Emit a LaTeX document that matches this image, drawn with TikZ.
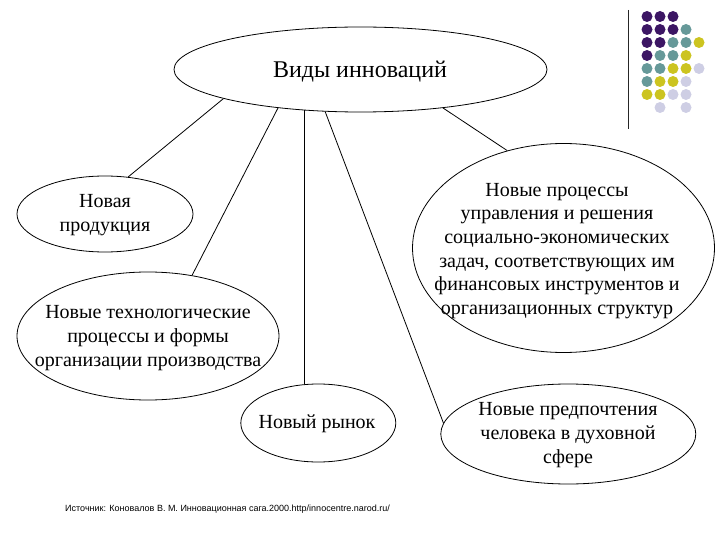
\documentclass[tikz,border=0pt]{standalone}
\usepackage{fontspec}
\setmainfont{Liberation Serif}
\newfontfamily\srcfont{Liberation Sans}
\usetikzlibrary{shapes.geometric}
\definecolor{dP}{RGB}{60,22,100}
\definecolor{dT}{RGB}{102,153,153}
\definecolor{dY}{RGB}{204,196,32}
\definecolor{dL}{RGB}{206,206,228}
\begin{document}
\begin{tikzpicture}[x=1pt,y=-1pt,
  ell/.style={ellipse,draw=black,line width=0.8pt,fill=white,inner sep=0pt},
  txt/.style={align=center,font=\fontsize{20}{23.6}\selectfont,inner sep=0pt},
  con/.style={draw=black,line width=0.8pt}]
\useasboundingbox (0,0) rectangle (720,540);
% decorative dots and bar
\draw[line width=1pt,black!85] (628,10) -- (628,129);
\foreach \c/\r/\col in {0/0/dP,1/0/dP,2/0/dP,
  0/1/dP,1/1/dP,2/1/dP,3/1/dT,
  0/2/dP,1/2/dP,2/2/dT,3/2/dT,4/2/dY,
  0/3/dP,1/3/dT,2/3/dT,3/3/dY,
  0/4/dT,1/4/dT,2/4/dY,3/4/dY,4/4/dL,
  0/5/dT,1/5/dY,2/5/dY,3/5/dL,
  0/6/dY,1/6/dY,2/6/dL,3/6/dL,
  1/7/dL,3/7/dL}
  \fill[\col] ({647+13*\c},{16.5+13*\r}) circle (5.5pt);
% ellipses
\node[ell,minimum width=373pt,minimum height=85pt] (e1) at (360.5,69.5) {};
\node[ell,minimum width=176pt,minimum height=76pt] (e2) at (105,214) {};
\node[ell,minimum width=262pt,minimum height=128pt] (e3) at (148,336) {};
\node[ell,minimum width=302pt,minimum height=209pt] (e4) at (563.5,248) {};
\node[ell,minimum width=155pt,minimum height=78pt] (e5) at (318.3,423) {};
\node[ell,minimum width=255pt,minimum height=100pt] (e6) at (568.3,434) {};
% connectors
\draw[con] (e1.192.3) -- (e2.58.4);
\draw[con] (e1.205.6) -- (e3.54.5);
\draw[con] (e1.216) -- (e1.216 |- e5.north);
\draw[con] (e1.230.9) -- (e6.175.9);
\draw[con] (e1.-25.1) -- (e4.120.7);
% texts
\node[txt,font=\fontsize{24}{28}\selectfont] (t1) at (360,72) {Виды инноваций};
\node[txt] (t2) at (105,215) {Новая\\продукция};
\node[txt] (t3) at (148,338) {Новые технологические\\процессы и формы\\организации производства};
\node[txt] (t4) at (557,251) {Новые процессы\\управления и решения\\социально-экономических\\задач, соответствующих им\\финансовых инструментов и\\организационных структур};
\node[txt] (t5) at (317,424) {Новый рынок};
\node[txt] (t6) at (568,435) {Новые предпочтения\\человека в духовной\\сфере};
\node[inner sep=0pt,font=\srcfont\fontsize{9}{11}\selectfont] (src) at (227.5,509) {Источник: Коновалов В. М. Инновационная сага.2000.http/innocentre.narod.ru/};
\end{tikzpicture}
\end{document}
